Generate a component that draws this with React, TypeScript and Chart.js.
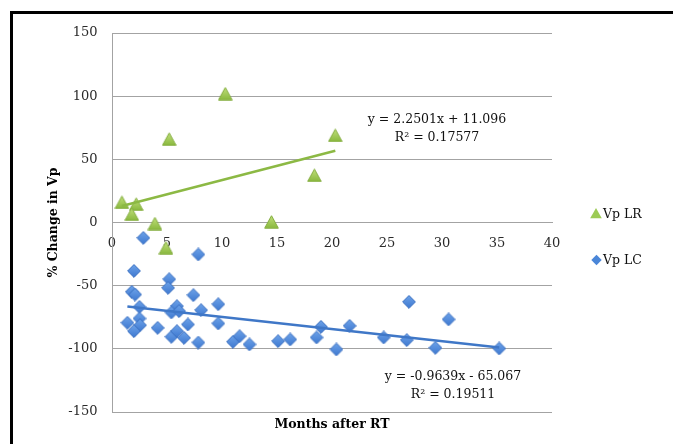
import React, { useEffect, useRef } from 'react';
import { Chart, registerables } from 'chart.js';

Chart.register(...registerables);

// ---- Data ----
const lrMonths = [0.9, 2.2, 1.8, 3.9, 4.9, 5.2, 10.3, 14.5, 18.4, 20.3];
const lrChange = [16, 14.5, 6.6, -0.8, -20, 66, 102, 0.5, 37.4, 69];

const lcMonths = [
  2.85, 7.85, 2.0, 5.2, 5.1, 1.8, 2.1, 7.4, 2.5, 5.9,
  5.4, 6.1, 8.1, 1.4, 2.5, 2.55, 2.0, 4.15, 6.9, 5.4,
  5.9, 6.55, 7.85, 9.66, 9.66, 11.0, 11.6, 12.5, 15.1, 16.2,
  19.0, 18.6, 20.4, 21.6, 24.7, 27.0, 26.8, 29.4, 30.6, 35.2,
];
const lcChange = [
  -12.2, -25.3, -38.3, -44.9, -51.7, -54.9, -57, -57.5, -66.8, -66.2,
  -71.2, -70.2, -69.4, -79.4, -76, -81.3, -86, -83.4, -80.7, -90.5,
  -86, -91.3, -95, -64.7, -79.9, -94.4, -90, -96.5, -93.9, -92.6,
  -82.6, -91, -100.5, -81.8, -91, -62.8, -93.1, -99.2, -76.7, -99.7,
];

const lrTrendMonths = [0.9, 20.3];
const lrTrendChange = [13.1, 56.8];
const lcTrendMonths = [1.4, 35.2];
const lcTrendChange = [-66.4, -99.0];

const seriesNames = ['Vp LR', 'Vp LC'];
const lrEquation = ['y = 2.2501x + 11.096', 'R\u00B2 = 0.17577'];
const lcEquation = ['y = -0.9639x - 65.067', 'R\u00B2 = 0.19511'];

const xMin = 0;
const xMax = 40;
const xStep = 5;
const yMin = -150;
const yMax = 150;
const yStep = 50;

const xTitle = 'Months after RT';
const yTitle = '% Change in Vp';

// ---- Styles ----
const FONT = '"DejaVu Serif", "Liberation Serif", serif';
const GRID = '#a3a3a3';
const GREEN_LINE = '#8cb944';
const BLUE_LINE = '#3f77c7';

const toPoints = (xs: number[], ys: number[]) => xs.map((x, i) => ({ x, y: ys[i] }));

function makeTriangle(): HTMLCanvasElement {
  const c = document.createElement('canvas');
  const w = 15;
  const h = 14;
  c.width = w;
  c.height = h;
  const ctx = c.getContext('2d')!;
  const g = ctx.createLinearGradient(0, 0, 0, h);
  g.addColorStop(0, '#c4e27f');
  g.addColorStop(1, '#86b63a');
  ctx.beginPath();
  ctx.moveTo(w / 2, 0.8);
  ctx.lineTo(w - 0.7, h - 0.8);
  ctx.lineTo(0.7, h - 0.8);
  ctx.closePath();
  ctx.fillStyle = g;
  ctx.fill();
  ctx.strokeStyle = '#84ad3f';
  ctx.lineWidth = 1;
  ctx.stroke();
  return c;
}

function makeDiamond(): HTMLCanvasElement {
  const c = document.createElement('canvas');
  const s = 14;
  c.width = s;
  c.height = s;
  const ctx = c.getContext('2d')!;
  const g = ctx.createLinearGradient(0, 0, 0, s);
  g.addColorStop(0, '#6fa4ea');
  g.addColorStop(1, '#3c77cf');
  ctx.beginPath();
  ctx.moveTo(s / 2, 0.6);
  ctx.lineTo(s - 0.6, s / 2);
  ctx.lineTo(s / 2, s - 0.6);
  ctx.lineTo(0.6, s / 2);
  ctx.closePath();
  ctx.fillStyle = g;
  ctx.fill();
  ctx.strokeStyle = '#3a6fc0';
  ctx.lineWidth = 1;
  ctx.stroke();
  return c;
}

const overlayPlugin = {
  id: 'overlay',
  afterDraw(chart: any) {
    const { ctx, chartArea } = chart;
    ctx.save();
    // x-axis title
    ctx.fillStyle = '#000';
    ctx.font = `bold 12.5px ${FONT}`;
    ctx.textAlign = 'center';
    ctx.textBaseline = 'middle';
    ctx.fillText(xTitle, (chartArea.left + chartArea.right) / 2, 424.5);

    // regression equations
    ctx.font = `12.5px ${FONT}`;
    ctx.fillStyle = '#111';
    ctx.fillText(lrEquation[0], 437, 120);
    ctx.fillText(lrEquation[1], 437, 137.5);
    ctx.fillText(lcEquation[0], 453, 376.5);
    ctx.fillText(lcEquation[1], 453, 395);

    // legend
    const tx = 596;
    const ty = 213.5;
    ctx.beginPath();
    ctx.moveTo(tx, ty - 5.5);
    ctx.lineTo(tx + 5.8, ty + 4.8);
    ctx.lineTo(tx - 5.8, ty + 4.8);
    ctx.closePath();
    ctx.fillStyle = '#9ccb55';
    ctx.fill();
    const dx = 596.5;
    const dy = 260;
    ctx.beginPath();
    ctx.moveTo(dx, dy - 5.2);
    ctx.lineTo(dx + 5.2, dy);
    ctx.lineTo(dx, dy + 5.2);
    ctx.lineTo(dx - 5.2, dy);
    ctx.closePath();
    ctx.fillStyle = '#4a86d8';
    ctx.fill();

    ctx.fillStyle = '#111';
    ctx.font = `12.5px ${FONT}`;
    ctx.textAlign = 'left';
    ctx.fillText(seriesNames[0], 603, 215);
    ctx.fillText(seriesNames[1], 603, 261);
    ctx.restore();
  },
};

export default function App() {
  const canvasRef = useRef<HTMLCanvasElement | null>(null);

  useEffect(() => {
    const canvas = canvasRef.current;
    if (!canvas) return;
    const tri = makeTriangle();
    const dia = makeDiamond();

    const chart = new Chart(canvas, {
      type: 'scatter',
      data: {
        datasets: [
          {
            label: 'LR trend',
            data: toPoints(lrTrendMonths, lrTrendChange),
            showLine: true,
            borderColor: GREEN_LINE,
            borderWidth: 2.5,
            pointRadius: 0,
            fill: false,
            order: 0,
          } as any,
          {
            label: 'LC trend',
            data: toPoints(lcTrendMonths, lcTrendChange),
            showLine: true,
            borderColor: BLUE_LINE,
            borderWidth: 2.5,
            pointRadius: 0,
            fill: false,
            order: 0,
          } as any,
          {
            label: seriesNames[0],
            data: toPoints(lrMonths, lrChange),
            pointStyle: tri,
            pointRadius: 7,
            order: 1,
          } as any,
          {
            label: seriesNames[1],
            data: toPoints(lcMonths, lcChange),
            pointStyle: dia,
            pointRadius: 7,
            order: 2,
          } as any,
        ],
      },
      options: {
        animation: false,
        responsive: false,
        maintainAspectRatio: false,
        devicePixelRatio: 1,
        events: [],
        layout: { padding: { left: 46, top: 33, right: 121, bottom: 32 } },
        plugins: {
          legend: { display: false },
          tooltip: { enabled: false },
        },
        scales: {
          x: {
            type: 'linear',
            position: { y: 0 } as any,
            min: xMin,
            max: xMax,
            ticks: {
              stepSize: xStep,
              padding: 13,
              color: '#2a2a2a',
              font: { family: FONT, size: 13 },
            },
            grid: { display: false, drawTicks: false },
            border: { display: true, color: GRID, width: 1 },
          },
          y: {
            type: 'linear',
            position: 'left',
            min: yMin,
            max: yMax,
            ticks: {
              stepSize: yStep,
              padding: 14.5,
              color: '#2a2a2a',
              font: { family: FONT, size: 13 },
            },
            grid: { color: GRID, lineWidth: 1, drawTicks: false },
            border: { display: true, color: GRID, width: 1 },
            title: {
              display: true,
              text: yTitle,
              color: '#000',
              font: { family: FONT, size: 12.5, weight: 'bold' },
              padding: { top: 0, bottom: 0 },
            },
            afterFit: (s: any) => {
              s.width = 66;
            },
          },
        },
      } as any,
      plugins: [overlayPlugin],
    });

    return () => {
      chart.destroy();
    };
  }, []);

  return (
    <div
      style={{
        position: 'fixed',
        left: 0,
        top: 0,
        width: 673,
        height: 444,
        background: '#fff',
        overflow: 'hidden',
      }}
    >
      <canvas ref={canvasRef} width={673} height={444} style={{ display: 'block', width: 673, height: 444 }} />
      <div
        style={{
          position: 'absolute',
          left: 10,
          top: 11,
          width: 800,
          height: 600,
          borderTop: '3px solid #000',
          borderLeft: '3px solid #000',
          pointerEvents: 'none',
        }}
      />
    </div>
  );
}
